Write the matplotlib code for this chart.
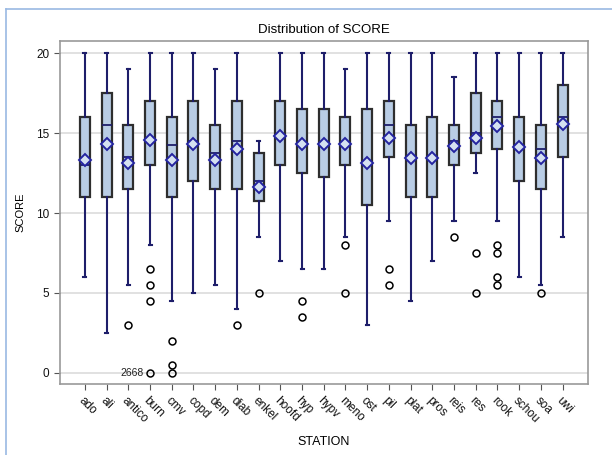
import matplotlib
matplotlib.use('Agg')
import matplotlib.pyplot as plt
from matplotlib.lines import Line2D

plt.rcParams['font.family'] = ['Liberation Sans', 'DejaVu Sans']

# data
stations = ['ado', 'ali', 'antico', 'burn', 'cmv', 'copd', 'dem', 'diab', 'enkel', 'hoofd',
            'hyp', 'hypv', 'meno', 'ost', 'pil', 'plat', 'pros', 'reis', 'res', 'rook',
            'schou', 'soa', 'uwi']
q1 = [11, 11, 11.5, 13, 11, 12, 11.5, 11.5, 10.75, 13, 12.5, 12.25, 13, 10.5, 13.5, 11, 11,
      13, 13.75, 14, 12, 11.5, 13.5]
med = [13, 15.5, 13.5, 14.5, 14.25, 14.5, 13.75, 14.5, 12, 14.75, 14.25, 14.25, 14.25, 13,
       15.5, 13.5, 13.5, 14.5, 15, 16, 14.25, 14, 16]
q3 = [16, 17.5, 15.5, 17, 16, 17, 15.5, 17, 13.75, 17, 16.5, 16.5, 16, 16.5, 17, 15.5, 16,
      15.5, 17.5, 17, 16, 15.5, 18]
means = [13.3, 14.35, 13.15, 14.55, 13.3, 14.35, 13.3, 14.0, 11.65, 14.8, 14.3, 14.3, 14.3,
         13.15, 14.7, 13.45, 13.45, 14.2, 14.7, 15.45, 14.15, 13.45, 15.55]
wlo = [6, 2.5, 5.5, 8, 4.5, 5, 5.5, 4, 8.5, 7, 6.5, 6.5, 8.5, 3, 9.5, 4.5, 7, 9.5, 12.5, 9.5,
       6, 5.5, 8.5]
whi = [20, 20, 19, 20, 20, 20, 19, 20, 14.5, 20, 20, 20, 19, 20, 20, 20, 20, 18.5, 20, 20, 20,
       20, 20]
outliers = [[], [], [3], [6.5, 5.5, 4.5, 0], [2, 0.5, 0], [], [], [3], [5], [], [4.5, 3.5], [],
            [8, 5], [], [6.5, 5.5], [], [], [8.5], [7.5, 5], [8, 7.5, 6, 5.5], [], [5], []]
label_station = 'burn'
label_value = 0
label_text = '2668'

stats = []
for i, name in enumerate(stations):
    stats.append({'label': name, 'q1': q1[i], 'med': med[i], 'q3': q3[i], 'mean': means[i],
                  'whislo': wlo[i], 'whishi': whi[i], 'fliers': outliers[i]})

navy = '#1e1e6a'
fig = plt.figure(figsize=(6.12, 4.55), dpi=100)
ax = fig.add_axes([0.098, 0.156, 0.862, 0.754])

pos = list(range(len(stations)))
ax.bxp(stats, positions=pos, widths=0.46, capwidths=0.14, showmeans=True, patch_artist=True,
       boxprops=dict(facecolor='#b9cde5', edgecolor='#2e2e2e', linewidth=1.6),
       medianprops=dict(color=navy, linewidth=1.3),
       whiskerprops=dict(color=navy, linewidth=1.5),
       capprops=dict(color=navy, linewidth=1.5),
       meanprops=dict(marker='D', markersize=6, markerfacecolor='#d5e1f1',
                      markeredgecolor='#2424a0', markeredgewidth=1.4),
       flierprops=dict(marker='o', markersize=5, markerfacecolor='none',
                       markeredgecolor='black', markeredgewidth=1.1),
       zorder=3)

i = stations.index(label_station)
ax.text(pos[i] - 0.3, label_value, label_text, ha='right', va='center', fontsize=7.5,
        color='#222222', zorder=4)

ax.set_xlim(-1.15, len(stations) - 1 + 1.15)
ax.set_ylim(-0.7, 20.77)
ax.set_yticks([0, 5, 10, 15, 20])
ax.yaxis.grid(True, color='#dcdcdc', linewidth=1.2, zorder=0)
ax.set_axisbelow(True)
ax.set_xticks(pos)
ax.set_xticklabels(stations, rotation=-45, ha='left', va='top', rotation_mode='anchor',
                   fontsize=8.5)
ax.tick_params(axis='y', labelsize=8.5, colors='#555555', labelcolor='#111111', length=4)
ax.tick_params(axis='x', colors='#555555', labelcolor='#111111', length=4)
for s in ax.spines.values():
    s.set_color('#999999')
    s.set_linewidth(1.2)

ax.set_title('Distribution of SCORE', fontsize=9.5, pad=6)
ax.set_xlabel('STATION', fontsize=9, labelpad=8)
ax.set_ylabel('SCORE', fontsize=8, labelpad=8)

# partial light-blue frame around the figure
fig.add_artist(Line2D([6 / 612, 1], [1 - 9 / 455, 1 - 9 / 455], transform=fig.transFigure,
                      color='#9ab9e3', linewidth=1.2))
fig.add_artist(Line2D([6 / 612, 6 / 612], [0, 1 - 9 / 455], transform=fig.transFigure,
                      color='#9ab9e3', linewidth=1.2))

fig.savefig('out.png', dpi=100)
